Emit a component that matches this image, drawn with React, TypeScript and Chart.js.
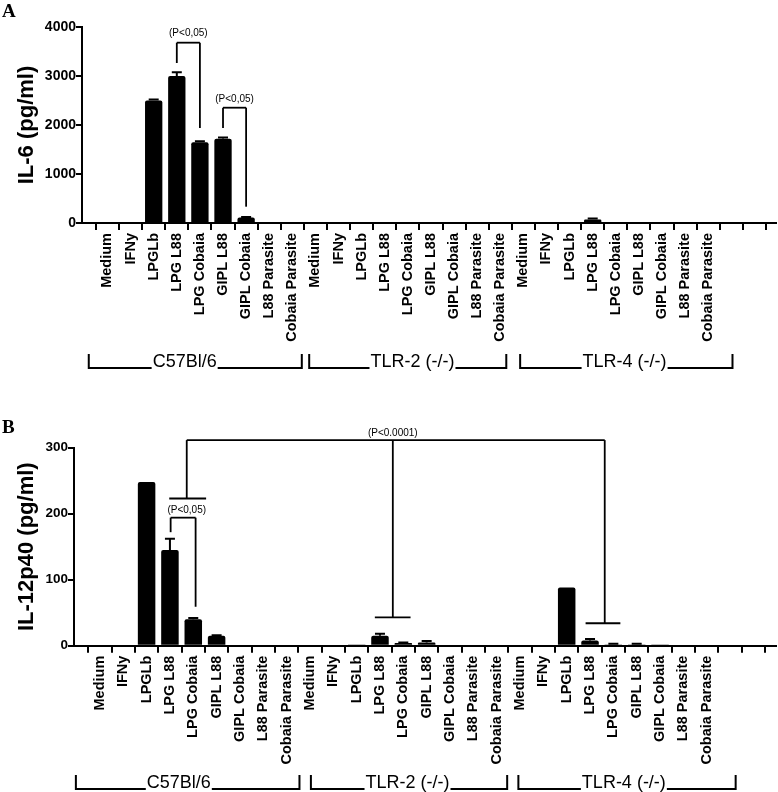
import React, { useEffect, useRef } from 'react';
import { Chart, registerables } from 'chart.js';

Chart.register(...registerables);

// ---------- data ----------
const stimuli = [
  'Medium', 'IFNy', 'LPGLb', 'LPG L88', 'LPG Cobaia',
  'GIPL L88', 'GIPL Cobaia', 'L88 Parasite', 'Cobaia Parasite',
];
const strains = ['C57Bl/6', 'TLR-2 (-/-)', 'TLR-4 (-/-)'];
const categories = [...stimuli, ...stimuli, ...stimuli, '', ''];

const il6Values = [
  0, 0, 2500, 3000, 1650, 1720, 110, 0, 0,
  0, 0, 0, 0, 0, 0, 0, 0, 0,
  0, 0, 0, 70, 0, 0, 0, 0, 0,
];
const il6Errors = [
  0, 0, 20, 75, 20, 25, 15, 0, 0,
  0, 0, 0, 0, 0, 0, 0, 0, 0,
  0, 0, 0, 20, 0, 0, 0, 0, 0,
];
const il6Ticks = [0, 1000, 2000, 3000, 4000];

const il12Values = [
  0, 0, 248, 145, 40, 15, 0, 0, 0,
  0, 0, 2, 15, 4, 5, 0, 0, 0,
  0, 0, 88, 8, 2, 2, 1, 0, 0,
];
const il12Errors = [
  0, 0, 0, 17, 2, 1, 0, 0, 0,
  0, 0, 0, 3, 1, 2, 0, 0, 0,
  0, 0, 0, 2, 1, 1, 0, 0, 0,
];
const il12Ticks = [0, 100, 200, 300];

// significance annotations (category index, value)
const bracket = (a: number, b: number, top: number, endA: number, endB: number) => [
  [a, top, b, top],
  [a, top, a, endA],
  [b, top, b, endB],
];
const sigSegmentsA = [
  ...bracket(3, 4, 3680, 3265, 1939),
  ...bracket(5, 6, 2353, 1939, 333),
];
const sigTextsA: [string, number, number][] = [
  ['(P<0,05)', 3.5, 3880],
  ['(P<0,05)', 5.5, 2530],
];
const sigSegmentsB = [
  ...bracket(3.03, 4.1, 194, 172, 59),
  [2.97, 223, 4.55, 223],
  [3.72, 223, 3.72, 311.5],
  [3.72, 311.5, 21.63, 311.5],
  [12.55, 311.5, 12.55, 43],
  [11.78, 43, 13.31, 43],
  [21.63, 311.5, 21.63, 34],
  [20.81, 34, 22.3, 34],
];
const sigTextsB: [string, number, number][] = [
  ['(P<0,05)', 3.72, 205.5],
  ['(P<0.0001)', 12.55, 322],
];

const groupsA = [
  { label: strains[0], left: -0.81, right: 8.41, center: 3.34 },
  { label: strains[1], left: 8.73, right: 17.26, center: 13.2 },
  { label: strains[2], left: 17.86, right: 27.05, center: 22.38 },
];
const groupsB = [
  { label: strains[0], left: -1.03, right: 8.55, center: 3.38 },
  { label: strains[1], left: 9.04, right: 17.45, center: 13.18 },
  { label: strains[2], left: 17.93, right: 27.24, center: 22.45 },
];

// ---------- drawing ----------
const SANS = "'Liberation Sans', Arial, Helvetica, sans-serif";

type PanelProps = {
  top: number;
  height: number;
  letter: string;
  letterY: number;
  values: number[];
  errors: number[];
  yTicks: number[];
  yTitle: string;
  yWidth: number;
  xHeight: number;
  padTop: number;
  xMin: number;
  xMax: number;
  segments: number[][];
  texts: [string, number, number][];
  groups: { label: string; left: number; right: number; center: number }[];
  groupTop: number;
  groupBottom: number;
  yTickSize: number;
};

function Panel(p: PanelProps) {
  const ref = useRef<HTMLCanvasElement>(null);
  useEffect(() => {
    const overlay = {
      id: 'overlay',
      afterDatasetsDraw(chart: any) {
        const { ctx, scales, chartArea } = chart;
        const x = scales.x;
        const y = scales.y;
        const meta = chart.getDatasetMeta(0);
        ctx.save();
        ctx.strokeStyle = '#000';
        ctx.fillStyle = '#000';
        ctx.lineCap = 'butt';
        // error bars
        ctx.lineWidth = 2;
        p.errors.forEach((e, i) => {
          if (!e) return;
          const bar = meta.data[i];
          const t = y.getPixelForValue(p.values[i] + e);
          ctx.beginPath();
          ctx.moveTo(bar.x, bar.y);
          ctx.lineTo(bar.x, t);
          ctx.moveTo(bar.x - 5, t);
          ctx.lineTo(bar.x + 5, t);
          ctx.stroke();
        });
        // significance brackets
        ctx.lineWidth = 1.8;
        p.segments.forEach(([x1, y1, x2, y2]) => {
          ctx.beginPath();
          ctx.moveTo(x.getPixelForValue(x1), y.getPixelForValue(y1));
          ctx.lineTo(x.getPixelForValue(x2), y.getPixelForValue(y2));
          ctx.stroke();
        });
        ctx.font = `10px ${SANS}`;
        ctx.textAlign = 'center';
        ctx.textBaseline = 'middle';
        p.texts.forEach(([t, xv, yv]) => {
          ctx.fillText(t, x.getPixelForValue(xv), y.getPixelForValue(yv));
        });
        // strain groups
        const gTop = chartArea.bottom + p.groupTop;
        const gBot = chartArea.bottom + p.groupBottom;
        ctx.font = `18px ${SANS}`;
        ctx.textBaseline = 'alphabetic';
        ctx.lineWidth = 2;
        p.groups.forEach((g) => {
          const l = x.getPixelForValue(g.left);
          const r = x.getPixelForValue(g.right);
          const c = x.getPixelForValue(g.center);
          const w = ctx.measureText(g.label).width;
          ctx.fillText(g.label, c, gBot - 1.5);
          ctx.beginPath();
          ctx.moveTo(l, gTop);
          ctx.lineTo(l, gBot);
          ctx.lineTo(c - w / 2 - 1, gBot);
          ctx.moveTo(c + w / 2 + 1, gBot);
          ctx.lineTo(r, gBot);
          ctx.lineTo(r, gTop);
          ctx.stroke();
        });
        // panel letter
        ctx.font = "bold 19px 'Liberation Serif', 'Times New Roman', serif";
        ctx.textAlign = 'left';
        ctx.fillText(p.letter, 2, p.letterY);
        ctx.restore();
      },
    };

    const chart = new Chart(ref.current as HTMLCanvasElement, {
      type: 'bar',
      data: {
        datasets: [
          {
            data: p.values.map((v, i) => ({ x: i, y: v })),
            backgroundColor: '#000',
            borderWidth: 0,
            borderRadius: 2,
            borderSkipped: 'bottom',
            barPercentage: 0.75,
            categoryPercentage: 1,
          },
        ],
      },
      options: {
        animation: false,
        responsive: false,
        devicePixelRatio: 1,
        layout: { autoPadding: false, padding: { top: p.padTop, right: 2, left: 0, bottom: 0 } },
        plugins: { legend: { display: false }, tooltip: { enabled: false } },
        scales: {
          x: {
            type: 'linear',
            min: p.xMin,
            max: p.xMax,
            afterFit: (s: any) => {
              s.height = p.xHeight;
            },
            afterBuildTicks: (s: any) => {
              s.ticks = categories.map((_, i) => ({ value: i }));
            },
            ticks: {
              autoSkip: false,
              minRotation: 90,
              maxRotation: 90,
              padding: 3,
              color: '#000',
              font: { family: SANS, size: 14.5, weight: 'bold' },
              callback: (v: any) => categories[v] ?? '',
            },
            grid: { drawOnChartArea: false, drawTicks: true, tickLength: 7, color: '#000', lineWidth: 2 },
            border: { color: '#000', width: 2 },
          },
          y: {
            min: p.yTicks[0],
            max: p.yTicks[p.yTicks.length - 1],
            afterFit: (s: any) => {
              s.width = p.yWidth;
            },
            afterBuildTicks: (s: any) => {
              s.ticks = p.yTicks.map((v) => ({ value: v }));
            },
            ticks: {
              padding: 0,
              color: '#000',
              font: { family: SANS, size: p.yTickSize, weight: 'bold' },
              callback: (v: any) => String(v),
            },
            grid: { drawOnChartArea: false, drawTicks: true, tickLength: 6, color: '#000', lineWidth: 2 },
            border: { color: '#000', width: 2 },
            title: {
              display: true,
              text: p.yTitle,
              color: '#000',
              font: { family: SANS, size: 22, weight: 'bold' },
              padding: { top: 14, bottom: 0 },
            },
          },
        },
      } as any,
      plugins: [overlay],
    });
    return () => chart.destroy();
  }, []);
  return (
    <canvas
      ref={ref}
      width={778}
      height={p.height}
      style={{ position: 'absolute', left: 0, top: p.top, width: 778, height: p.height }}
    />
  );
}

export default function App() {
  return (
    <div style={{ position: 'absolute', left: 0, top: 0, width: 778, height: 792, background: '#fff', overflow: 'hidden' }}>
      <Panel
        top={0}
        height={390}
        letter="A"
        letterY={17}
        values={il6Values}
        errors={il6Errors}
        yTicks={il6Ticks}
        yTitle="IL-6 (pg/ml)"
        yWidth={82}
        xHeight={167}
        padTop={27}
        xMin={-0.585}
        xMax={28.415}
        segments={sigSegmentsA}
        texts={sigTextsA}
        groups={groupsA}
        groupTop={131}
        groupBottom={145}
        yTickSize={14}
      />
      <Panel
        top={390}
        height={402}
        letter="B"
        letterY={43}
        values={il12Values}
        errors={il12Errors}
        yTicks={il12Ticks}
        yTitle="IL-12p40 (pg/ml)"
        yWidth={74}
        xHeight={146.3}
        padTop={57.7}
        xMin={-0.592}
        xMax={28.45}
        segments={sigSegmentsB}
        texts={sigTextsB}
        groups={groupsB}
        groupTop={129.3}
        groupBottom={143.3}
        yTickSize={13.5}
      />
    </div>
  );
}
